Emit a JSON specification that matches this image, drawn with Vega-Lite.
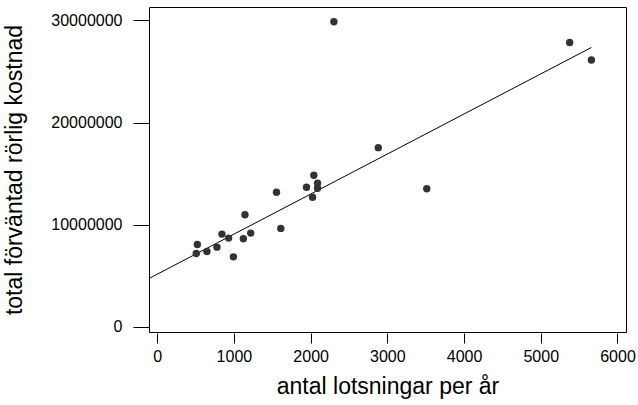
{
  "$schema": "https://vega.github.io/schema/vega-lite/v6.json",
  "width": 477,
  "height": 325,
  "autosize": {"type": "none"},
  "padding": {"left": 149, "top": 7, "right": 12, "bottom": 73},
  "background": "white",
  "config": {
    "view": {"stroke": "black", "strokeWidth": 1},
    "font": "Liberation Sans",
    "axis": {
      "labelFont": "Liberation Sans",
      "titleFont": "Liberation Sans",
      "labelColor": "black",
      "titleColor": "black",
      "tickColor": "black",
      "domain": false,
      "grid": false,
      "titleFontWeight": "normal"
    }
  },
  "datasets": {
    "pts": [
      {"lots": 509, "cost": 7196000},
      {"lots": 523, "cost": 8078000},
      {"lots": 648, "cost": 7392000},
      {"lots": 779, "cost": 7814000},
      {"lots": 844, "cost": 9088000},
      {"lots": 931, "cost": 8696000},
      {"lots": 993, "cost": 6863000},
      {"lots": 1123, "cost": 8627000},
      {"lots": 1144, "cost": 10980000},
      {"lots": 1219, "cost": 9186000},
      {"lots": 1555, "cost": 13180000},
      {"lots": 1611, "cost": 9647000},
      {"lots": 1946, "cost": 13670000},
      {"lots": 2042, "cost": 14840000},
      {"lots": 2025, "cost": 12690000},
      {"lots": 2090, "cost": 14060000},
      {"lots": 2090, "cost": 13570000},
      {"lots": 2303, "cost": 29870000},
      {"lots": 2882, "cost": 17550000},
      {"lots": 3514, "cost": 13530000},
      {"lots": 5377, "cost": 27840000},
      {"lots": 5660, "cost": 26120000}
    ],
    "fit": [
      {"lots": -150, "cost": 4576000},
      {"lots": 5660, "cost": 27350000}
    ]
  },
  "layer": [
    {
      "data": {"name": "fit"},
      "mark": {"type": "line", "color": "black", "strokeWidth": 1, "clip": true},
      "encoding": {
        "x": {"field": "lots", "type": "quantitative"},
        "y": {"field": "cost", "type": "quantitative"}
      }
    },
    {
      "data": {"name": "pts"},
      "mark": {"type": "circle", "size": 55, "color": "#333333", "opacity": 1},
      "encoding": {
        "x": {
          "field": "lots", "type": "quantitative",
          "scale": {"domain": [-107, 6111], "nice": false, "zero": false},
          "axis": {
            "values": [0, 1000, 2000, 3000, 4000, 5000, 6000],
            "format": "d",
            "title": "antal lotsningar per år",
            "labelFontSize": 16,
            "titleFontSize": 23,
            "tickSize": 10,
            "offset": 1,
            "labelPadding": 5,
            "titlePadding": 11
          }
        },
        "y": {
          "field": "cost", "type": "quantitative",
          "scale": {"domain": [-490000, 31310000], "nice": false, "zero": false},
          "axis": {
            "values": [0, 10000000, 20000000, 30000000],
            "format": "d",
            "title": "total förväntad rörlig kostnad",
            "labelFontSize": 16,
            "titleFontSize": 23,
            "tickSize": 16,
            "labelPadding": 11,
            "titlePadding": 24
          }
        }
      }
    }
  ]
}
